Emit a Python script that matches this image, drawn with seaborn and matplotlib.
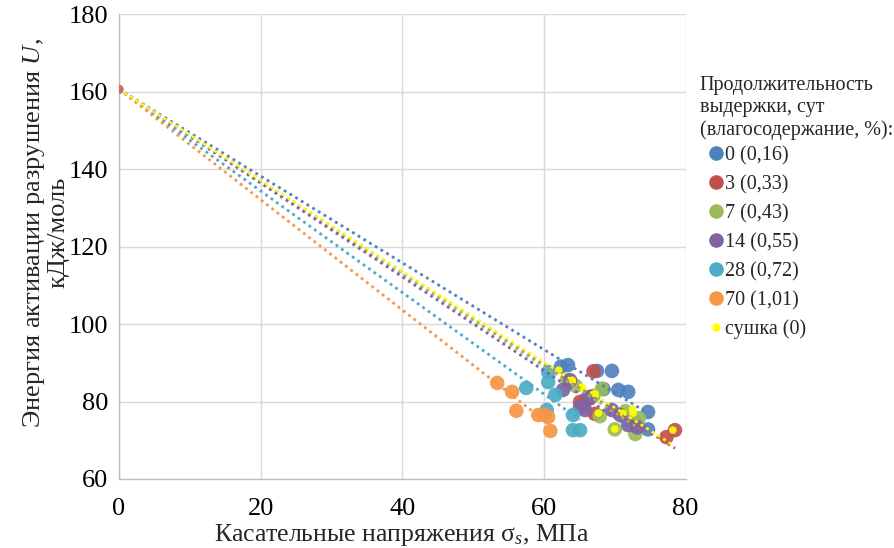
import matplotlib
matplotlib.use("Agg")
import matplotlib.pyplot as plt
import seaborn as sns
import numpy as np
from matplotlib.lines import Line2D

# ---- data ----
origin_x = [0.0]
origin_y = [160.6]

labels = ["0 (0,16)", "3 (0,33)", "7 (0,43)", "14 (0,55)", "28 (0,72)", "70 (1,01)", "сушка (0)"]
colors = ["#4F81BD", "#C0504D", "#9BBB59", "#8064A2", "#4BACC6", "#F79646", "#FFFF00"]

x0 = [62.4, 63.4, 67.5, 69.6, 70.5, 71.9, 74.7, 74.7, 66.2, 68.4]
y0 = [89.0, 89.4, 87.9, 87.9, 83.0, 82.5, 77.3, 72.8, 81.0, 83.2]

x3 = [67.0, 65.1, 65.5, 67.2, 66.5, 72.9, 77.3, 78.5]
y3 = [87.8, 79.9, 79.0, 76.8, 80.8, 74.7, 70.8, 72.6]

x7 = [63.3, 64.5, 67.0, 68.2, 67.9, 70.0, 72.9, 73.4, 71.5]
y7 = [85.5, 84.0, 81.5, 83.3, 76.2, 72.8, 71.6, 75.7, 77.5]

x14 = [63.7, 62.7, 65.1, 65.8, 66.5, 69.6, 70.8, 71.9, 73.2]
y14 = [85.5, 83.0, 78.6, 77.8, 81.2, 77.8, 76.5, 73.9, 73.3]

x28 = [60.6, 60.6, 57.5, 61.6, 60.4, 64.1, 64.1, 65.1]
y28 = [87.6, 85.0, 83.5, 81.7, 77.8, 76.5, 72.6, 72.6]

x70 = [53.4, 55.5, 56.1, 59.2, 60.0, 60.6, 60.9]
y70 = [84.8, 82.5, 77.6, 76.5, 76.6, 76.0, 72.4]

xd = [62.1, 65.4, 67.2, 67.7, 70.0, 71.2, 72.5, 72.6, 78.2, 64.0]
yd = [88.1, 83.7, 82.0, 77.0, 72.9, 77.0, 78.0, 77.0, 72.6, 85.5]

series_x = [x0, x3, x7, x14, x28, x70, xd]
series_y = [y0, y3, y7, y14, y28, y70, yd]

# ---- style ----
sns.set_theme(style="white")
plt.rcParams["font.family"] = ["Liberation Serif", "DejaVu Serif"]
plt.rcParams["mathtext.fontset"] = "custom"
plt.rcParams["mathtext.rm"] = "Liberation Serif"
plt.rcParams["mathtext.it"] = "Liberation Serif:italic"

fig = plt.figure(figsize=(8.95, 5.48), dpi=100)
ax = fig.add_axes([0.133, 0.126, 0.633, 0.848])

for i, (xs, ys) in enumerate(zip(series_x, series_y)):
    size = 30 if i == 6 else 110
    sns.scatterplot(x=xs, y=ys, color=colors[i], s=size, edgecolor="none",
                    alpha=0.92, ax=ax, zorder=2, legend=False)

# origin point shared by all series
sns.scatterplot(x=origin_x, y=origin_y, color="#D06A6A", s=45, edgecolor="none",
                ax=ax, zorder=4, legend=False)

# linear trendlines through the common origin point
for i, (xs, ys) in enumerate(zip(series_x, series_y)):
    xa = np.array(xs)
    ya = np.array(ys)
    slope = np.sum(xa * (ya - origin_y[0])) / np.sum(xa ** 2)
    xl = np.array([0.0, xa.max()])
    ax.plot(xl, origin_y[0] + slope * xl, color=colors[i], lw=2.0,
            linestyle=(0, (1, 1.4)), zorder=3)

ax.set_xlim(0, 80)
ax.set_ylim(60, 180)
ax.set_xticks(np.arange(0, 81, 20))
ax.set_yticks(np.arange(60, 181, 20))
ax.grid(True, color="#D9D9D9", lw=1.0)
ax.set_axisbelow(True)
for s in ["top", "right"]:
    ax.spines[s].set_visible(False)
for s in ["left", "bottom"]:
    ax.spines[s].set_color("#BFBFBF")
    ax.spines[s].set_linewidth(1.0)
ax.tick_params(axis="both", labelsize=19, length=0, colors="black")
ax.tick_params(axis="y", pad=8)
ax.tick_params(axis="x", pad=14)

ax.set_xlabel(r"Касательные напряжения σ$_{\it{s}}$, МПа", fontsize=18.5, labelpad=1)
ax.set_ylabel("Энергия активации разрушения $\\it{U}$,\nкДж/моль", fontsize=19,
              linespacing=1.0)
ax.yaxis.set_label_coords(-0.088, 0.53)

handles = []
for i in range(7):
    ms = 6 if i == 6 else 10.5
    handles.append(Line2D([0], [0], marker="o", linestyle="none", markersize=ms,
                          markerfacecolor=colors[i], markeredgecolor="none"))
leg = fig.legend(handles, labels, loc="upper left", bbox_to_anchor=(0.782, 0.861),
                 title="Продолжительность\nвыдержки, сут\n(влагосодержание, %):",
                 frameon=False, fontsize=14.5, title_fontsize=14.5,
                 handletextpad=-0.35, handlelength=1.6, labelspacing=0.48,
                 borderaxespad=0, borderpad=0, alignment="left")
leg.get_title().set_linespacing(1.22)
leg._legend_box.sep = 4.3

fig.savefig("out.png", dpi=100)
